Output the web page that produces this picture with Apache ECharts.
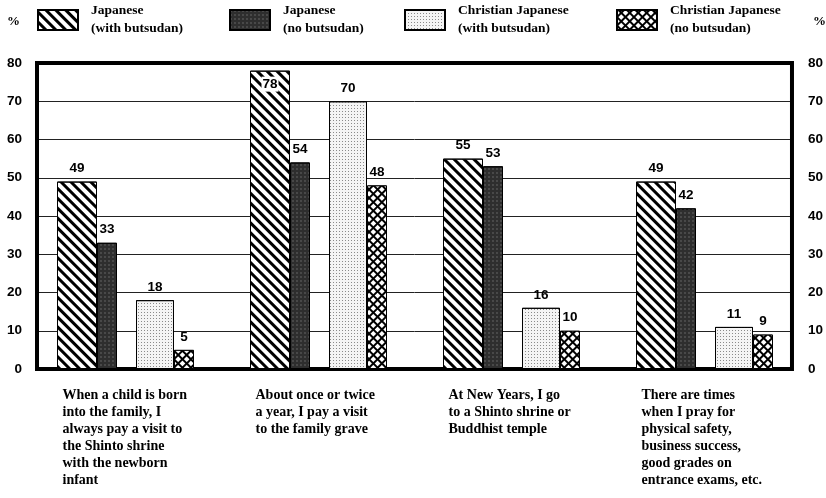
<!DOCTYPE html>
<html>
<head>
<meta charset="utf-8">
<script src="https://cdn.jsdelivr.net/npm/echarts@6/dist/echarts.min.js"></script>
<style>
html,body{margin:0;padding:0;background:#fff;}
#chart{width:826px;height:498px;}
</style>
</head>
<body>
<div id="chart"></div>
<script>
const categories = [
  "When a child is born\ninto the family, I\nalways pay a visit to\nthe Shinto shrine\nwith the newborn\ninfant",
  "About once or twice\na year, I pay a visit\nto the family grave",
  "At New Years, I go\nto a Shinto shrine or\nBuddhist temple",
  "There are times\nwhen I pray for\nphysical safety,\nbusiness success,\ngood grades on\nentrance exams, etc."
];
const seriesNames = [
  "Japanese\n(with butsudan)",
  "Japanese\n(no butsudan)",
  "Christian Japanese\n(with butsudan)",
  "Christian Japanese\n(no butsudan)"
];
const japaneseWith = [49, 78, 55, 49];
const japaneseNo = [33, 54, 53, 42];
const christianWith = [18, 70, 16, 11];
const christianNo = [5, 48, 10, 9];
const yMin = 0, yMax = 80, yInterval = 10;

const serif = "'Liberation Serif', 'Times New Roman', serif";
const sans = "'Liberation Sans', Arial, sans-serif";

const decals = [
  {symbol: 'rect', symbolSize: 1, color: '#000', dashArrayX: [1, 0], dashArrayY: [2.2, 3.2], rotation: Math.PI / 4},
  {symbol: 'circle', symbolSize: 0.9, color: '#555', dashArrayX: [1.5, 1.5], dashArrayY: [1.5, 1.5]},
  {symbol: 'rect', symbolSize: 1, color: '#8a8a8a', dashArrayX: [1, 1.6], dashArrayY: [1, 1.6]},
  {symbol: 'rect', symbolSize: 1, color: '#fff', dashArrayX: [3.4, 1.4], dashArrayY: [3.4, 1.4], rotation: Math.PI / 4}
];
const fills = ['#fff', '#2e2e2e', '#f4f4f4', '#000'];
const widths = [40, 20, 38, 20];
const values = [japaneseWith, japaneseNo, christianWith, christianNo];

function makeSeries(i) {
  return {
    name: seriesNames[i],
    type: 'bar',
    xAxisIndex: 0,
    yAxisIndex: 0,
    barWidth: widths[i],
    barGap: '0%',
    itemStyle: {color: fills[i], borderColor: '#000', borderWidth: 1, decal: decals[i]},
    label: {
      show: true, position: 'top', distance: 6,
      fontFamily: sans, fontWeight: 'bold', fontSize: 13.5, color: '#000'
    },
    data: values[i].map(v => v > 75 ? {
      value: v,
      label: {position: 'insideTop', distance: 6, backgroundColor: '#fff', padding: [1, 1, 0, 1]}
    } : v),
    z: 3
  };
}

const series = [
  makeSeries(0),
  makeSeries(1),
  {
    name: 'spacer', type: 'bar', xAxisIndex: 0, yAxisIndex: 0,
    barWidth: 19, barGap: '0%', silent: true,
    itemStyle: {color: 'transparent'},
    data: categories.map(() => '-')
  },
  makeSeries(2),
  makeSeries(3)
];

const legendLefts = [37, 229, 404, 616];
const legends = seriesNames.map((n, i) => ({
  data: [n],
  left: legendLefts[i],
  top: 2,
  padding: 0,
  itemWidth: 40,
  itemHeight: 20,
  selectedMode: false,
  icon: 'rect',
  textStyle: {
    fontFamily: serif, fontSize: 13.5, fontWeight: 'bold', color: '#000',
    lineHeight: 18, padding: [0, 0, 0, 8]
  }
}));

const chart = echarts.init(document.getElementById('chart'), null, {renderer: 'canvas'});
chart.setOption({
  backgroundColor: '#fff',
  animation: false,
  title: [
    {text: '%', left: 7, top: 15, padding: 0, textStyle: {fontFamily: serif, fontSize: 13, fontWeight: 'bold', color: '#000'}},
    {text: '%', left: 813, top: 15, padding: 0, textStyle: {fontFamily: serif, fontSize: 13, fontWeight: 'bold', color: '#000'}}
  ],
  legend: legends,
  grid: [
    {left: 29, right: 25, top: 63, bottom: 129, show: false},
    {left: 37, right: 33, top: 63, bottom: 129, show: true, borderWidth: 4, borderColor: '#000', backgroundColor: 'transparent', z: 1}
  ],
  xAxis: [
    {
      type: 'category', gridIndex: 0, data: categories,
      axisLine: {show: false}, axisTick: {show: false},
      axisLabel: {
        interval: 0, margin: 18, align: 'center',
        formatter: v => v.split('\n').map(l => '{a|' + l + '}').join('\n'),
        rich: {a: {width: 126, align: 'left', fontFamily: serif, fontSize: 14, fontWeight: 'bold', color: '#000', lineHeight: 17}}
      }
    },
    {type: 'category', gridIndex: 1, data: categories, show: false}
  ],
  yAxis: [
    {type: 'value', gridIndex: 0, min: yMin, max: yMax, interval: yInterval, show: false},
    {
      type: 'value', gridIndex: 1, min: yMin, max: yMax, interval: yInterval, position: 'left',
      axisLine: {show: false}, axisTick: {show: false},
      splitLine: {show: true, lineStyle: {color: '#222', width: 1}},
      axisLabel: {margin: 15, fontFamily: sans, fontSize: 13.5, fontWeight: 'bold', color: '#000'}
    },
    {
      type: 'value', gridIndex: 1, min: yMin, max: yMax, interval: yInterval, position: 'right',
      axisLine: {show: false}, axisTick: {show: false}, splitLine: {show: false},
      axisLabel: {margin: 16, fontFamily: sans, fontSize: 13.5, fontWeight: 'bold', color: '#000'}
    }
  ],
  series: series
});
</script>
</body>
</html>
